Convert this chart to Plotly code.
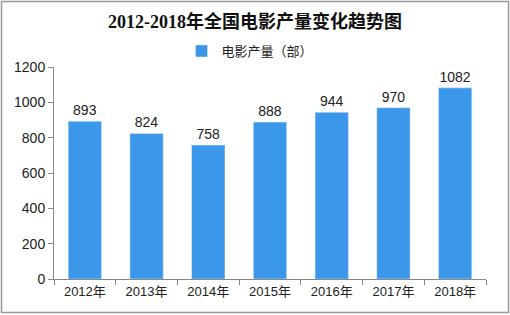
import plotly.graph_objects as go

years = ["2012年", "2013年", "2014年", "2015年", "2016年", "2017年", "2018年"]
values = [893, 824, 758, 888, 944, 970, 1082]
series_name = "电影产量（部）"
title_text = "2012-2018年全国电影产量变化趋势图"

W, H = 510, 315
L, R, T, B = 54, 24, 67, 36

fig = go.Figure()
fig.add_trace(go.Bar(
    x=years, y=values, name=series_name,
    marker_color="#3a97ea",
    text=[str(v) for v in values], textposition="outside",
    textfont=dict(size=14, color="#222222", family="Liberation Sans, Arial"),
    cliponaxis=False,
))

pw, ph = W - L - R, H - T - B
fig.update_layout(
    width=W, height=H,
    margin=dict(l=L, r=R, t=T, b=B),
    paper_bgcolor="white", plot_bgcolor="white",
    bargap=0.46,
    showlegend=True,
    title=dict(text="<b>" + title_text + "</b>", x=0.5, xanchor="center",
               y=1 - 22 / H, yanchor="middle",
               font=dict(size=18, color="#111111", family="Liberation Serif, Noto Sans CJK SC")),
    legend=dict(orientation="h", x=0.5 - 20 / pw, xanchor="center", y=1 + 16 / ph, yanchor="middle",
                font=dict(size=13, color="#222222", family="Noto Sans CJK SC"),
                itemwidth=30),
    font=dict(family="Liberation Sans, Noto Sans CJK SC", color="#222222"),
)
fig.update_xaxes(showline=True, linecolor="#888888", linewidth=1,
                 ticks="outside", tickson="boundaries", ticklen=5, tickcolor="#888888",
                 tickfont=dict(size=13, color="#222222", family="Liberation Sans, Noto Sans CJK SC"))
fig.update_yaxes(range=[0, 1200], dtick=200, showgrid=False, zeroline=False,
                 showline=True, linecolor="#888888", linewidth=1,
                 ticks="outside", ticklen=5, tickcolor="#888888",
                 tickfont=dict(size=14, color="#222222", family="Liberation Sans, Arial"))

# outer frame
fig.add_shape(type="rect", xref="paper", yref="paper",
              x0=-(L - 1.5) / pw, x1=1 + (R - 1.5) / pw,
              y0=-(B - 2.5) / ph, y1=1 + (T - 1.5) / ph,
              line=dict(color="#999999", width=1.5))

fig.write_html("out.html")
